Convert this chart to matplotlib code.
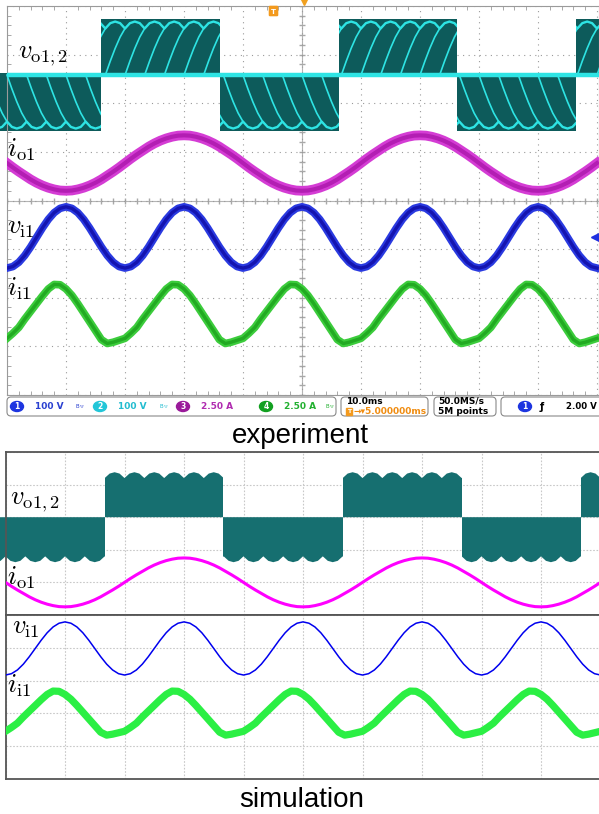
"""Matrix converter waveforms: scope capture vs simulation."""
import matplotlib
matplotlib.use("Agg")
import matplotlib.pyplot as plt
import numpy as np
from matplotlib.patches import Rectangle, FancyBboxPatch, Ellipse

W, H = 599, 814

# time grid, ms (10 ms/div, 10 div)
T_MS = np.arange(0, 101)

# per-unit traces, 1 ms apart
VI1 = [-1.00, -0.95, -0.81, -0.59, -0.31, 0.00, 0.31, 0.59, 0.81, 0.95, 1.00, 0.95, 0.81, 0.59, 0.31, 0.00, -0.31, -0.59, -0.81, -0.95,
       -1.00, -0.95, -0.81, -0.59, -0.31, 0.00, 0.31, 0.59, 0.81, 0.95, 1.00, 0.95, 0.81, 0.59, 0.31, 0.00, -0.31, -0.59, -0.81, -0.95,
       -1.00, -0.95, -0.81, -0.59, -0.31, 0.00, 0.31, 0.59, 0.81, 0.95, 1.00, 0.95, 0.81, 0.59, 0.31, 0.00, -0.31, -0.59, -0.81, -0.95,
       -1.00, -0.95, -0.81, -0.59, -0.31, 0.00, 0.31, 0.59, 0.81, 0.95, 1.00, 0.95, 0.81, 0.59, 0.31, 0.00, -0.31, -0.59, -0.81, -0.95,
       -1.00, -0.95, -0.81, -0.59, -0.31, 0.00, 0.31, 0.59, 0.81, 0.95, 1.00, 0.95, 0.81, 0.59, 0.31, 0.00, -0.31, -0.59, -0.81, -0.95,
       -1.00]
IO1 = [0.00, -0.16, -0.31, -0.45, -0.59, -0.71, -0.81, -0.89, -0.95, -0.99, -1.00, -0.99, -0.95, -0.89, -0.81, -0.71, -0.59, -0.45, -0.31, -0.16,
       0.00, 0.16, 0.31, 0.45, 0.59, 0.71, 0.81, 0.89, 0.95, 0.99, 1.00, 0.99, 0.95, 0.89, 0.81, 0.71, 0.59, 0.45, 0.31, 0.16,
       0.00, -0.16, -0.31, -0.45, -0.59, -0.71, -0.81, -0.89, -0.95, -0.99, -1.00, -0.99, -0.95, -0.89, -0.81, -0.71, -0.59, -0.45, -0.31, -0.16,
       0.00, 0.16, 0.31, 0.45, 0.59, 0.71, 0.81, 0.89, 0.95, 0.99, 1.00, 0.99, 0.95, 0.89, 0.81, 0.71, 0.59, 0.45, 0.31, 0.16,
       0.00, -0.16, -0.31, -0.45, -0.59, -0.71, -0.81, -0.89, -0.95, -0.99, -1.00, -0.99, -0.95, -0.89, -0.81, -0.71, -0.59, -0.45, -0.31, -0.16,
       0.00]
II1 = [-0.72, -0.56, -0.38, -0.12, 0.12, 0.36, 0.60, 0.82, 0.96, 0.95, 0.82, 0.62, 0.36, 0.08, -0.20, -0.48, -0.76, -0.88, -0.84, -0.78,
       -0.72, -0.56, -0.38, -0.12, 0.12, 0.36, 0.60, 0.82, 0.96, 0.95, 0.82, 0.62, 0.36, 0.08, -0.20, -0.48, -0.76, -0.88, -0.84, -0.78,
       -0.72, -0.56, -0.38, -0.12, 0.12, 0.36, 0.60, 0.82, 0.96, 0.95, 0.82, 0.62, 0.36, 0.08, -0.20, -0.48, -0.76, -0.88, -0.84, -0.78,
       -0.72, -0.56, -0.38, -0.12, 0.12, 0.36, 0.60, 0.82, 0.96, 0.95, 0.82, 0.62, 0.36, 0.08, -0.20, -0.48, -0.76, -0.88, -0.84, -0.78,
       -0.72, -0.56, -0.38, -0.12, 0.12, 0.36, 0.60, 0.82, 0.96, 0.95, 0.82, 0.62, 0.36, 0.08, -0.20, -0.48, -0.76, -0.88, -0.84, -0.78,
       -0.72]

# output voltage: polarity edges (ms) and 6-pulse envelope
EXP_VO_EDGES = [16.0, 36.1, 56.2, 76.3, 96.5]
SIM_VO_EDGES = [16.7, 36.6, 56.7, 76.7, 96.7]
VO_FIRST_SIGN = -1
HUMP_CUSPS = [-3.33, 0.00, 3.33, 6.67, 10.00, 13.33, 16.67, 20.00, 23.33, 26.67, 30.00,
              33.33, 36.67, 40.00, 43.33, 46.67, 50.00, 53.33, 56.67, 60.00, 63.33,
              66.67, 70.00, 73.33, 76.67, 80.00, 83.33, 86.67, 90.00, 93.33, 96.67,
              100.00, 103.33]
HUMP_SHAPE = [0.87, 0.97, 1.00, 0.97]
STRIPE_SHAPE = [0.00, 0.26, 0.50, 0.71, 0.87]

plt.rcParams["mathtext.fontset"] = "cm"
fig = plt.figure(figsize=(W / 100, H / 100), dpi=100)


def envelope():
    ts, vs = [], []
    for c0, c1 in zip(HUMP_CUSPS[:-1], HUMP_CUSPS[1:]):
        for j, lvl in enumerate(HUMP_SHAPE):
            ts.append(c0 + (c1 - c0) * j / len(HUMP_SHAPE))
            vs.append(lvl)
    ts.append(HUMP_CUSPS[-1])
    vs.append(HUMP_SHAPE[0])
    return np.array(ts), np.array(vs)


def intervals(edges):
    bounds = [-10] + list(edges) + [115]
    sign = VO_FIRST_SIGN
    out = []
    for a, b in zip(bounds[:-1], bounds[1:]):
        out.append((a, b, sign))
        sign = -sign
    return out


def draw_vo(ax, edges, zero, amp, fill, line=None):
    et, ev = envelope()
    shape = np.array(STRIPE_SHAPE)
    for a, b, s in intervals(edges):
        clip = Rectangle((a, -10), b - a, 20, transform=ax.transData)
        if line:
            # the scope's persistence fills a flat band above the humps
            poly = ax.fill_between(et, zero - s * 0.05, zero + s * amp * 1.05, color=fill, lw=0, zorder=2)
        else:
            poly = ax.fill_between(et, zero, zero + s * amp * ev, color=fill, lw=0, zorder=2)
        poly.set_clip_path(clip)
        if line is None:
            continue
        hump, = ax.plot(et, zero + s * amp * ev, color=line, lw=1.7, zorder=3)
        hump.set_clip_path(clip)
        for c0, c1 in zip(HUMP_CUSPS[:-1], HUMP_CUSPS[1:]):
            st = c0 + (c1 - c0) * np.arange(len(shape)) / (len(shape) - 1)
            sl, = ax.plot(st, zero + s * amp * shape, color=line, lw=1.2, zorder=3)
            sl.set_clip_path(clip)


def scope_band(ax, values, zero, amp, outer, inner, lw_out, lw_in):
    y = zero + amp * np.array(values)
    ax.plot(T_MS, y, color=outer, lw=lw_out, solid_joinstyle="round", zorder=5)
    ax.plot(T_MS, y, color=inner, lw=lw_in, solid_joinstyle="round", zorder=6)


# ---------------- experiment (scope screen) ----------------
ax = fig.add_axes([7 / W, 1 - 395 / H, 592 / W, 389 / H])
ax.set_xlim(0, 100 * 592 / 590)
ax.set_ylim(-4, 4)
ax.set_xticks(np.arange(0, 101, 10))
ax.set_yticks(np.arange(-4, 5, 1))
ax.set_xticks(np.arange(0, 101, 2), minor=True)
ax.set_yticks(np.arange(-4, 4.01, 0.2), minor=True)
ax.grid(color="#9a9a9a", ls=(0, (1, 4)), lw=0.8)
ax.tick_params(which="both", direction="in", color="#9a9a9a", labelleft=False,
               labelbottom=False, top=True, right=False)
ax.tick_params(which="major", length=0)
ax.tick_params(which="minor", length=3)
for s in ax.spines.values():
    s.set_color("#9a9a9a")
ax.axhline(0, color="#b4b4b4", lw=0.8, zorder=1)
ax.axvline(50, color="#b4b4b4", lw=0.8, zorder=1)
ax.plot(np.arange(0, 101, 2), np.zeros(51), ls="", marker="|", ms=4, color="#a8a8a8", zorder=1)
ax.plot(np.full(41, 50), np.arange(-4, 4.01, 0.2), ls="", marker="_", ms=4, color="#a8a8a8", zorder=1)

draw_vo(ax, EXP_VO_EDGES, 2.58, 1.10, "#0d5b5b", "#2ee4e4")
ax.axhline(2.58, color="#2ee4e4", lw=3.2, zorder=4)
scope_band(ax, IO1, 0.77, 0.57, "#d43cd4", "#b31eb3", 7.0, 3.0)
scope_band(ax, VI1, -0.76, 0.63, "#2a3ae0", "#1414b0", 5.5, 2.4)
scope_band(ax, II1, -2.36, 0.66, "#3ccc3c", "#22aa22", 5.5, 2.4)

# ---------------- simulation ----------------
def sim_axes(y_top, y_bot):
    a = fig.add_axes([5.5 / W, 1 - y_bot / H, 595 / W, (y_bot - y_top) / H])
    a.set_xlim(0, 100)
    a.set_ylim(0, 5)
    a.set_xticks(np.arange(0, 101, 10))
    a.set_yticks(np.arange(0, 6, 1))
    a.grid(color="#c8c8c8", ls=(0, (1.5, 1.5)), lw=0.8)
    a.tick_params(length=0, labelleft=False, labelbottom=False)
    for s in a.spines.values():
        s.set_color("#555555")
        s.set_linewidth(1.3)
    return a


s1 = sim_axes(452, 615)
draw_vo(s1, SIM_VO_EDGES, 3.0, 1.38, "#166f70")
s1.plot(T_MS, 1.0 + 0.75 * np.array(IO1), color="#ff00ff", lw=2.2, zorder=5)

s2 = sim_axes(615, 779)
s2.plot(T_MS, 3.98 + 0.81 * np.array(VI1), color="#0000ee", lw=1.1, zorder=5)
s2.plot(T_MS, 1.98 + 0.73 * np.array(II1), color="#2bef44", lw=5.2, solid_joinstyle="round", zorder=5)

# ---------------- overlay: labels and scope status bar ----------------
ov = fig.add_axes([0, 0, 1, 1], zorder=10)
ov.set_xlim(0, W)
ov.set_ylim(H, 0)
ov.axis("off")
ov.patch.set_alpha(0)

labels = [(r"$v_{\mathrm{o1,2}}$", 18, 58), (r"$i_{\mathrm{o1}}$", 7, 157),
          (r"$v_{\mathrm{i1}}$", 7, 234), (r"$i_{\mathrm{i1}}$", 7, 296),
          (r"$v_{\mathrm{o1,2}}$", 10, 504), (r"$i_{\mathrm{o1}}$", 7, 585),
          (r"$v_{\mathrm{i1}}$", 12, 634), (r"$i_{\mathrm{i1}}$", 7, 693)]
for txt, x, y in labels:
    ov.text(x, y, txt, fontsize=19, va="baseline", ha="left", color="black")

ov.text(300, 443, "experiment", fontsize=20, family="Liberation Sans", ha="center", va="baseline")
ov.text(302, 807, "simulation", fontsize=20, family="Liberation Sans", ha="center", va="baseline")

# trigger markers
ov.add_patch(FancyBboxPatch((270, 7), 7, 8, boxstyle="round,pad=0.6", color="#f39a1e"))
ov.text(273.5, 11.5, "T", fontsize=5, color="white", ha="center", va="center", weight="bold")
ov.plot(304, 2, marker="v", ms=5, color="#f0a020")
ov.plot(595, 237, marker="<", ms=6, color="#2030e0")

# status bar boxes
for x0, x1 in [(7, 336), (341, 428), (434, 496), (501, 640)]:
    ov.add_patch(FancyBboxPatch((x0, 397), x1 - x0, 19, boxstyle="round,pad=0,rounding_size=4",
                                fc="white", ec="#8a8a8a", lw=0.8))

chans = [(17, "1", "#1d35e0", "100 V", "#2a40d0"), (100, "2", "#22c6d8", "100 V", "#22bcd0"),
         (183, "3", "#9a1a9a", "2.50 A", "#b02cb0"), (266, "4", "#12a020", "2.50 A", "#22b030")]
for cx, num, cfill, val, ctext in chans:
    ov.add_patch(Ellipse((cx, 406.5), 13, 10, color=cfill))
    ov.text(cx, 406.8, num, fontsize=5.5, color="white", ha="center", va="center", weight="bold")
    ov.text(cx + 18, 406.5, val, fontsize=6.5, color=ctext, ha="left", va="center", weight="bold")
for bx, bc in [(80, "#2a40d0"), (164, "#22bcd0"), (330, "#22b030")]:
    ov.text(bx, 406.5, "B$_{\\rm W}$", fontsize=4, color=bc, ha="center", va="center")

ov.text(346, 401.5, "10.0ms", fontsize=6.5, ha="left", va="center", weight="bold")
ov.add_patch(Rectangle((346, 408), 6, 7, color="#f39a1e"))
ov.text(349, 411.6, "T", fontsize=4.5, color="white", ha="center", va="center", weight="bold")
ov.text(353, 411.8, "→▾5.000000ms", fontsize=6.5, color="#f08c10", ha="left", va="center", weight="bold")
ov.text(438, 401.5, "50.0MS/s", fontsize=6.5, ha="left", va="center", weight="bold")
ov.text(438, 411.8, "5M points", fontsize=6.5, ha="left", va="center", weight="bold")
ov.add_patch(Ellipse((525, 406.5), 13, 10, color="#1d35e0"))
ov.text(525, 406.8, "1", fontsize=5.5, color="white", ha="center", va="center", weight="bold")
ov.text(542, 406.5, "ƒ", fontsize=7, ha="center", va="center", weight="bold")
ov.text(566, 406.5, "2.00 V", fontsize=6.2, ha="left", va="center", weight="bold")

fig.savefig("out.png", dpi=100)
